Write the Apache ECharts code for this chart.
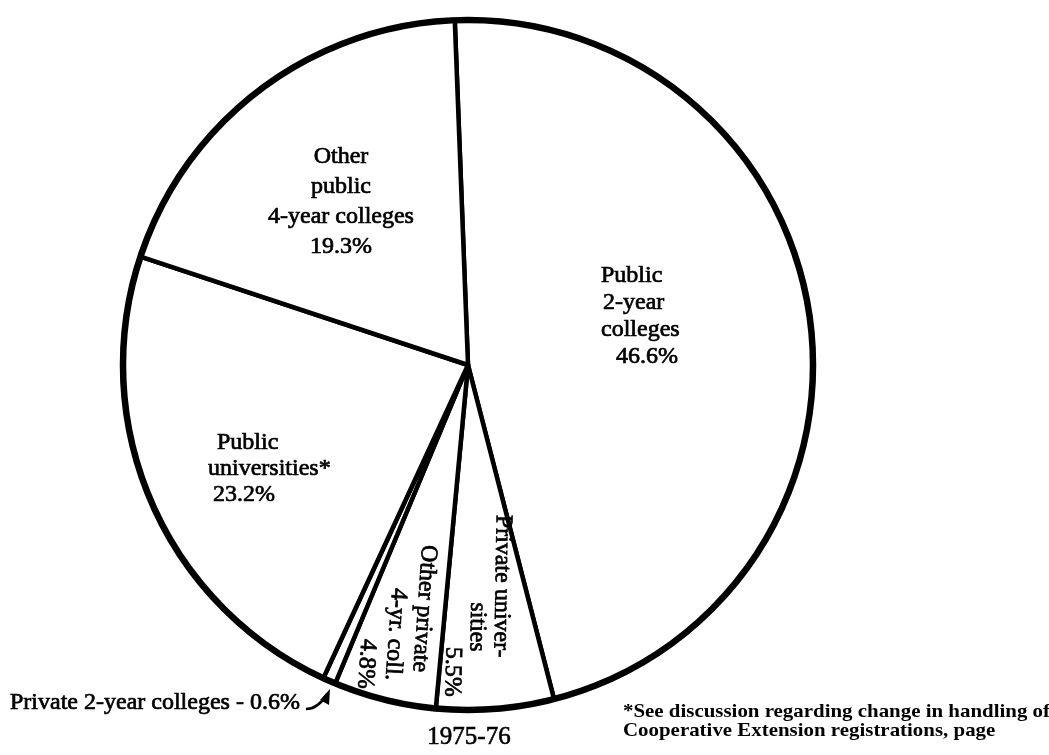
<!DOCTYPE html>
<html>
<head>
<meta charset="utf-8">
<script src="https://cdn.jsdelivr.net/npm/echarts@6/dist/echarts.min.js"></script>
<style>
  html, body { margin: 0; padding: 0; background: #fff; }
  #chart { width: 1049px; height: 755px; }
</style>
</head>
<body>
<div id="chart"></div>
<script>
// Enrollment shares by type of institution, 1975-76 (percent)
const categories = [
  'Public 2-year colleges',
  'Private universities',
  'Other private 4-year colleges',
  'Private 2-year colleges',
  'Public universities',
  'Other public 4-year colleges'
];
const shares = [46.6, 5.5, 4.8, 0.6, 23.2, 19.3];

// Text printed in each slice, line by line (the share is appended as the last line)
const sliceText = [
  ['Public', '2-year', 'colleges'],
  ['Private univer-', 'sities'],
  ['Other private', '4-yr. coll.'],
  ['Private 2-year colleges - '],
  ['Public', 'universities*'],
  ['Other', 'public', '4-year colleges']
];
const yearLabel = '1975-76';
const footnoteLines = [
  '*See discussion regarding change in handling of',
  'Cooperative Extension registrations, page'
];

// Label placement: anchor point, alignment, rotation and per-line indent (px)
const labelPlacement = [
  { x: 601, y: 262, align: 'left',   rotate: 0,   lh: 27, indent: [0, 2, 0, 15] },
  { x: 515, y: 515, align: 'left',   rotate: -91, lh: 24, indent: [0, 88, 133] },
  { x: 442, y: 546, align: 'left',   rotate: -94, lh: 27, indent: [0, 45, 98] },
  { x: 10,  y: 690, align: 'left',   rotate: 0,   lh: 26, indent: [0], inline: true },
  { x: 208, y: 430, align: 'left',   rotate: 0,   lh: 26, indent: [9, 0, 5] },
  { x: 341, y: 142, align: 'center', rotate: 0,   lh: 30, indent: [0, 0, 0, 0] }
];

const FONT = '"Liberation Serif", "Times New Roman", serif';
const CX = 468, CY = 365, R = 345;

// rich styles: one per indented line; a thin stroke gives the heavy print look
const rich = {};
labelPlacement.forEach((p, i) => {
  p.indent.forEach((ind, j) => {
    rich['s' + i + '_' + j] = {
      fontFamily: FONT, fontSize: 24, color: '#000',
      textBorderColor: '#000', textBorderWidth: 0.7,
      lineHeight: p.lh, padding: [0, 0, 0, ind]
    };
  });
});

function sliceLabel(i) {
  const pct = shares[i].toFixed(1) + '%';
  if (labelPlacement[i].inline) {
    return '{s' + i + '_0|' + sliceText[i][0] + pct + '}';
  }
  const lines = sliceText[i].concat([pct]);
  return lines.map((t, j) => '{s' + i + '_' + j + '|' + t + '}').join('\n');
}

const chart = echarts.init(document.getElementById('chart'), null, { renderer: 'canvas' });

chart.setOption({
  backgroundColor: '#fff',
  animation: false,
  series: [
    {
      type: 'pie',
      center: [CX, CY],
      radius: [0, R],
      startAngle: 92.2,
      clockwise: true,
      avoidLabelOverlap: false,
      minShowLabelAngle: 0,
      silent: true,
      itemStyle: { color: '#fff', borderColor: '#000', borderWidth: 4.5 },
      label: {
        show: true,
        position: 'inside',
        formatter: p => sliceLabel(p.dataIndex),
        rich: rich
      },
      labelLine: { show: false },
      labelLayout: p => {
        const pl = labelPlacement[p.dataIndex];
        return { x: pl.x, y: pl.y, align: pl.align, verticalAlign: 'top', rotate: pl.rotate };
      },
      data: categories.map((c, i) => ({ name: c, value: shares[i] }))
    },
    {
      // heavier outer rim
      type: 'pie',
      center: [CX, CY],
      radius: [R, R],
      silent: true,
      z: 3,
      label: { show: false },
      labelLine: { show: false },
      itemStyle: { color: 'none', borderColor: '#000', borderWidth: 6.5 },
      data: [{ name: 'rim', value: 1 }]
    }
  ],
  graphic: [
    {
      type: 'text',
      left: 427, top: 725,
      style: {
        text: yearLabel, font: '25px ' + FONT, fill: '#000',
        stroke: '#000', lineWidth: 0.6
      }
    },
    {
      type: 'text',
      x: 623, y: 703,
      scaleX: 1.1,
      style: {
        text: footnoteLines.join('\n'),
        font: 'bold 19px ' + FONT, fill: '#000', lineHeight: 19
      }
    },
    {
      // pointer from the small-slice caption to its slice
      type: 'bezierCurve',
      shape: { x1: 306, y1: 709, cpx1: 318, cpy1: 709, x2: 327, y2: 694 },
      style: { stroke: '#000', lineWidth: 2.5, fill: 'none' }
    },
    {
      type: 'polygon',
      shape: { points: [[330, 689], [320, 700], [329, 705]] },
      style: { fill: '#000' }
    }
  ]
});
</script>
</body>
</html>
